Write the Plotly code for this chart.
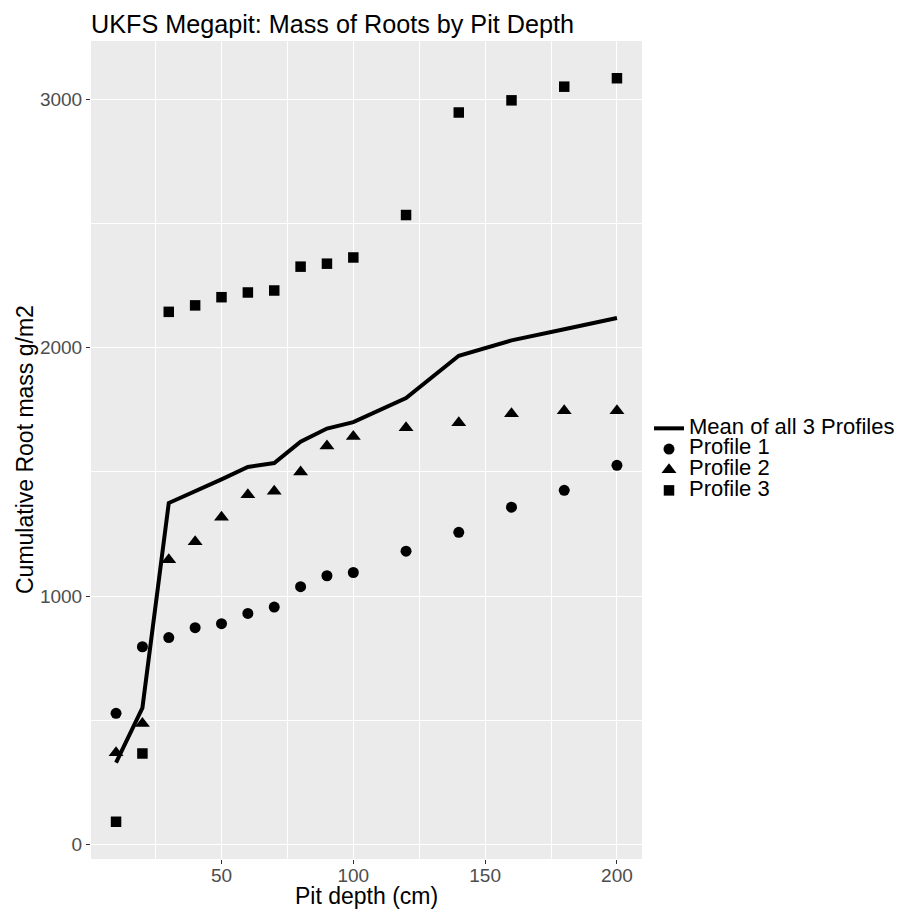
import plotly.graph_objects as go

depth = [10, 20, 30, 40, 50, 60, 70, 80, 90, 100, 120, 140, 160, 180, 200]
profile1 = [528, 796, 833, 873, 889, 930, 956, 1038, 1082, 1095, 1181, 1257, 1358, 1426, 1527]
profile2 = [369, 487, 1146, 1219, 1318, 1408, 1422, 1500, 1605, 1643, 1678, 1698, 1735, 1747, 1747]
profile3 = [91, 366, 2145, 2171, 2204, 2223, 2231, 2327, 2339, 2364, 2535, 2948, 2997, 3052, 3086]
mean_all = [329, 550, 1375, 1421, 1470, 1520, 1536, 1622, 1675, 1701, 1798, 1968, 2030, 2075, 2120]

x_ticks = [50, 100, 150, 200]
x_minor = [25, 75, 125, 175]
y_ticks = [0, 1000, 2000, 3000]
y_minor = [500, 1500, 2500]

names = ["Mean of all 3 Profiles", "Profile 1", "Profile 2", "Profile 3"]

FONT = "Liberation Sans, Arial, sans-serif"
W, H = 908, 910
ML, MR, MT, MB = 91, 266, 41, 51
LEG_FS = 22


def leg(name):
    return '<span style="font-size:%dpx">%s</span>' % (LEG_FS, name)


fig = go.Figure()
fig.add_trace(go.Scatter(x=depth, y=profile1, mode="markers", name=leg(names[1]),
                         marker=dict(symbol="circle", size=11, color="black"), legendrank=2))
fig.add_trace(go.Scatter(x=depth, y=profile2, mode="markers", name=leg(names[2]),
                         marker=dict(symbol="triangle-up", size=13, color="black"), legendrank=3))
fig.add_trace(go.Scatter(x=depth, y=profile3, mode="markers", name=leg(names[3]),
                         marker=dict(symbol="square", size=10.5, color="black"), legendrank=4))
fig.add_trace(go.Scatter(x=depth, y=mean_all, mode="lines", name=leg(names[0]),
                         line=dict(color="black", width=4), legendrank=1))

ph = H - MT - MB
pw = W - ML - MR

fig.update_layout(
    width=W, height=H,
    margin=dict(l=ML, r=MR, t=MT, b=MB, autoexpand=False),
    paper_bgcolor="white", plot_bgcolor="#EBEBEB",
    font=dict(family=FONT, color="black"),
    title=dict(text="UKFS Megapit: Mass of Roots by Pit Depth", x=0, xref="paper", xanchor="left",
               y=1 - 24.5 / H, yref="container", yanchor="middle",
               font=dict(size=25.2, color="black")),
    showlegend=True,
    legend=dict(x=(649 - ML) / pw, xanchor="left", y=1 - (459.5 - MT) / ph, yanchor="middle",
                bgcolor="rgba(0,0,0,0)", font=dict(size=13.6, color="black"), tracegroupgap=0),
    xaxis=dict(range=[0.5, 209.5], tickvals=x_ticks, showgrid=True, gridcolor="white", gridwidth=1.1,
               zeroline=False, showline=False, ticks="outside", ticklen=4, tickcolor="#333333",
               tickfont=dict(size=19, color="#4D4D4D"), automargin=False, ticklabelstandoff=-5,
               minor=dict(tickvals=x_minor, showgrid=True, gridcolor="white", gridwidth=0.5, ticks="")),
    yaxis=dict(range=[-59, 3236], tickvals=y_ticks, showgrid=True, gridcolor="white", gridwidth=1.1,
               zeroline=False, showline=False, ticks="outside", ticklen=4, tickcolor="#333333",
               tickfont=dict(size=19, color="#4D4D4D"), automargin=False,
               minor=dict(tickvals=y_minor, showgrid=True, gridcolor="white", gridwidth=0.5, ticks="")),
    annotations=[
        dict(text="Pit depth (cm)", xref="paper", yref="paper", x=0.5, y=-(896 - (H - MB)) / ph,
             xanchor="center", yanchor="middle", showarrow=False, font=dict(size=23, color="black")),
        dict(text="Cumulative Root mass g/m2", xref="paper", yref="paper", x=-(ML - 25) / pw, y=0.5,
             xanchor="center", yanchor="middle", textangle=-90, showarrow=False,
             font=dict(size=23, color="black")),
    ],
)

fig.write_html("out.html")
